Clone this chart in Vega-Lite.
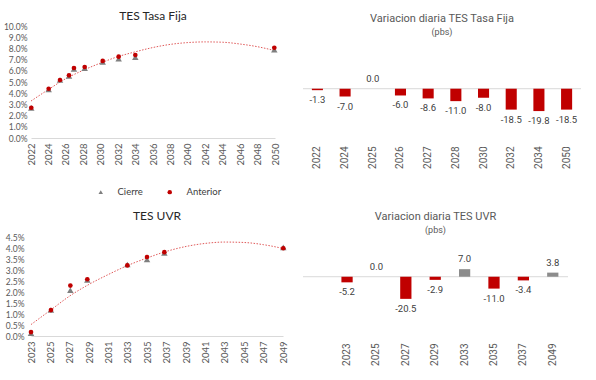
{
  "$schema": "https://vega.github.io/schema/vega-lite/v6.json",
  "background": "white",
  "padding": {"left": 3, "top": 10, "right": 0, "bottom": 0},
  "spacing": 14,
  "config": {
    "view": {"stroke": null},
    "axis": {"labelColor": "#595959", "domainColor": "#D9D9D9", "ticks": false, "grid": false, "labelOverlap": false, "labelFlush": false}
  },
  "hconcat": [
    {
      "spacing": 44,
      "vconcat": [
        {
          "width": 244,
          "height": 112,
          "title": {"text": "TES Tasa Fija", "font": "Lato", "fontSize": 12, "fontWeight": "normal", "color": "#262626", "offset": -1},
          "data": {"values": [
            {"anio": 2022.03, "valor": 2.69, "serie": "Cierre"},
            {"anio": 2024.03, "valor": 4.33, "serie": "Cierre"},
            {"anio": 2025.33, "valor": 5.18, "serie": "Cierre"},
            {"anio": 2026.36, "valor": 5.54, "serie": "Cierre"},
            {"anio": 2026.93, "valor": 6.16, "serie": "Cierre"},
            {"anio": 2028.16, "valor": 6.23, "serie": "Cierre"},
            {"anio": 2030.23, "valor": 6.80, "serie": "Cierre"},
            {"anio": 2032.06, "valor": 7.08, "serie": "Cierre"},
            {"anio": 2033.97, "valor": 7.21, "serie": "Cierre"},
            {"anio": 2049.92, "valor": 7.88, "serie": "Cierre"},
            {"anio": 2022.03, "valor": 2.70, "serie": "Anterior"},
            {"anio": 2024.03, "valor": 4.40, "serie": "Anterior"},
            {"anio": 2025.33, "valor": 5.18, "serie": "Anterior"},
            {"anio": 2026.36, "valor": 5.60, "serie": "Anterior"},
            {"anio": 2026.93, "valor": 6.25, "serie": "Anterior"},
            {"anio": 2028.16, "valor": 6.34, "serie": "Anterior"},
            {"anio": 2030.23, "valor": 6.88, "serie": "Anterior"},
            {"anio": 2032.06, "valor": 7.26, "serie": "Anterior"},
            {"anio": 2033.97, "valor": 7.41, "serie": "Anterior"},
            {"anio": 2049.92, "valor": 8.06, "serie": "Anterior"}
          ]},
          "encoding": {
            "x": {"field": "anio", "type": "quantitative", "scale": {"domain": [2022, 2050], "nice": false, "zero": false},
              "axis": {"title": null, "values": [2022, 2024, 2026, 2028, 2030, 2032, 2034, 2036, 2038, 2040, 2042, 2044, 2046, 2048, 2050], "format": "d", "labelAngle": -90, "labelPadding": 5, "labelFont": "Lato", "labelFontSize": 9.5}},
            "y": {"field": "valor", "type": "quantitative", "scale": {"domain": [0, 10], "nice": false},
              "axis": {"title": null, "values": [0, 1, 2, 3, 4, 5, 6, 7, 8, 9, 10], "labelExpr": "format(datum.value, '.1f') + '%'", "domain": false, "labelPadding": 4, "labelFont": "Lato", "labelFontSize": 8.5}}
          },
          "layer": [
            {
              "data": {"values": [
                {"anio": 2022, "valor": 3.3}, {"anio": 2024, "valor": 4.33}, {"anio": 2026, "valor": 5.3},
                {"anio": 2028, "valor": 6.05}, {"anio": 2030, "valor": 6.7}, {"anio": 2032, "valor": 7.27},
                {"anio": 2034, "valor": 7.7}, {"anio": 2036, "valor": 8.08}, {"anio": 2038, "valor": 8.36},
                {"anio": 2040, "valor": 8.52}, {"anio": 2042, "valor": 8.58}, {"anio": 2044, "valor": 8.55},
                {"anio": 2046, "valor": 8.39}, {"anio": 2048, "valor": 8.15}, {"anio": 2050, "valor": 7.8}
              ]},
              "mark": {"type": "line", "color": "#E05A5A", "strokeWidth": 1, "strokeDash": [1.5, 1.5], "interpolate": "monotone"},
              "encoding": {}
            },
            {
              "transform": [{"filter": "datum.serie === 'Cierre'"}],
              "mark": {"type": "point", "filled": true, "opacity": 1, "size": 42},
              "encoding": {
                "color": {"field": "serie", "type": "nominal", "scale": {"domain": ["Cierre", "Anterior"], "range": ["#7F7F7F", "#C00000"]},
                  "legend": {"orient": "none", "legendX": 65, "legendY": 161, "direction": "horizontal", "title": null, "labelFont": "Lato", "labelFontSize": 9.5, "labelColor": "#404040", "symbolSize": 20, "columnPadding": 22, "labelOffset": 12}},
                "shape": {"field": "serie", "type": "nominal", "scale": {"domain": ["Cierre", "Anterior"], "range": ["triangle-up", "circle"]}}
              }
            },
            {
              "transform": [{"filter": "datum.serie === 'Anterior'"}],
              "mark": {"type": "point", "filled": true, "opacity": 1, "size": 22},
              "encoding": {
                "color": {"field": "serie", "type": "nominal", "scale": {"domain": ["Cierre", "Anterior"], "range": ["#7F7F7F", "#C00000"]}},
                "shape": {"field": "serie", "type": "nominal", "scale": {"domain": ["Cierre", "Anterior"], "range": ["triangle-up", "circle"]}}
              }
            }
          ]
        },
        {
          "width": 252,
          "height": 99,
          "title": {"text": "TES UVR", "font": "Lato", "fontSize": 12, "fontWeight": "normal", "color": "#262626", "offset": 10},
          "data": {"values": [
            {"anio": 2023.0, "valor": 0.13, "serie": "Cierre"},
            {"anio": 2025.06, "valor": 1.18, "serie": "Cierre"},
            {"anio": 2027.06, "valor": 2.08, "serie": "Cierre"},
            {"anio": 2028.81, "valor": 2.55, "serie": "Cierre"},
            {"anio": 2032.94, "valor": 3.25, "serie": "Cierre"},
            {"anio": 2034.97, "valor": 3.48, "serie": "Cierre"},
            {"anio": 2036.76, "valor": 3.77, "serie": "Cierre"},
            {"anio": 2049.03, "valor": 4.03, "serie": "Cierre"},
            {"anio": 2023.0, "valor": 0.18, "serie": "Anterior"},
            {"anio": 2025.06, "valor": 1.18, "serie": "Anterior"},
            {"anio": 2027.06, "valor": 2.29, "serie": "Anterior"},
            {"anio": 2028.81, "valor": 2.58, "serie": "Anterior"},
            {"anio": 2032.94, "valor": 3.21, "serie": "Anterior"},
            {"anio": 2034.97, "valor": 3.59, "serie": "Anterior"},
            {"anio": 2036.76, "valor": 3.81, "serie": "Anterior"},
            {"anio": 2049.03, "valor": 3.99, "serie": "Anterior"}
          ]},
          "encoding": {
            "x": {"field": "anio", "type": "quantitative", "scale": {"domain": [2023, 2049], "nice": false, "zero": false},
              "axis": {"title": null, "values": [2023, 2025, 2027, 2029, 2031, 2033, 2035, 2037, 2039, 2041, 2043, 2045, 2047, 2049], "format": "d", "labelAngle": -90, "labelPadding": 5, "labelFont": "Lato", "labelFontSize": 9.5}},
            "y": {"field": "valor", "type": "quantitative", "scale": {"domain": [0, 4.5], "nice": false},
              "axis": {"title": null, "values": [0, 0.5, 1, 1.5, 2, 2.5, 3, 3.5, 4, 4.5], "labelExpr": "format(datum.value, '.1f') + '%'", "domain": false, "labelPadding": 7, "labelFont": "Lato", "labelFontSize": 8.5}}
          },
          "layer": [
            {
              "data": {"values": [
                {"anio": 2023, "valor": 0.52}, {"anio": 2025, "valor": 1.17}, {"anio": 2027, "valor": 1.82},
                {"anio": 2029, "valor": 2.35}, {"anio": 2031, "valor": 2.8}, {"anio": 2033, "valor": 3.21},
                {"anio": 2035, "valor": 3.55}, {"anio": 2037, "valor": 3.85}, {"anio": 2039, "valor": 4.07},
                {"anio": 2041, "valor": 4.21}, {"anio": 2043, "valor": 4.27}, {"anio": 2045, "valor": 4.25},
                {"anio": 2047, "valor": 4.15}, {"anio": 2049, "valor": 3.98}
              ]},
              "mark": {"type": "line", "color": "#E05A5A", "strokeWidth": 1, "strokeDash": [1.5, 1.5], "interpolate": "monotone"},
              "encoding": {}
            },
            {
              "transform": [{"filter": "datum.serie === 'Cierre'"}],
              "mark": {"type": "point", "filled": true, "opacity": 1, "size": 42, "shape": "triangle-up", "color": "#7F7F7F"},
              "encoding": {}
            },
            {
              "transform": [{"filter": "datum.serie === 'Anterior'"}],
              "mark": {"type": "point", "filled": true, "opacity": 1, "size": 22, "shape": "circle", "color": "#C00000"},
              "encoding": {}
            }
          ]
        }
      ]
    },
    {
      "spacing": 42,
      "vconcat": [
        {
          "width": 278,
          "height": 114,
          "title": {"text": "Variacion diaria TES Tasa Fija", "subtitle": "(pbs)", "font": "Roboto", "fontSize": 11, "fontWeight": "normal", "color": "#595959", "subtitleFont": "Roboto", "subtitleFontSize": 9, "subtitleColor": "#595959", "subtitlePadding": 4, "offset": -11},
          "layer": [
            {
              "data": {"values": [{"cero": 0}]},
              "mark": {"type": "rule", "color": "#D9D9D9", "strokeWidth": 1},
              "encoding": {"y": {"field": "cero", "type": "quantitative"}}
            },
            {
              "data": {"values": [
                {"plazo": "2022", "var": -1.3, "etiqueta": "-1.3"},
                {"plazo": "2024", "var": -7.0, "etiqueta": "-7.0"},
                {"plazo": "2025", "var": 0.0, "etiqueta": "0.0"},
                {"plazo": "2026", "var": -6.0, "etiqueta": "-6.0"},
                {"plazo": "2027", "var": -8.6, "etiqueta": "-8.6"},
                {"plazo": "2028", "var": -11.0, "etiqueta": "-11.0"},
                {"plazo": "2030", "var": -8.0, "etiqueta": "-8.0"},
                {"plazo": "2032", "var": -18.5, "etiqueta": "-18.5"},
                {"plazo": "2034", "var": -19.8, "etiqueta": "-19.8"},
                {"plazo": "2050", "var": -18.5, "etiqueta": "-18.5"}
              ]},
              "layer": [
                {
                  "mark": {"type": "bar"},
                  "encoding": {
                    "x": {"field": "plazo", "type": "nominal", "sort": null, "scale": {"paddingInner": 0.6, "paddingOuter": 0.32},
                      "axis": {"title": null, "labelAngle": -90, "labelPadding": 6, "domain": false, "labelFont": "Roboto", "labelFontSize": 10}},
                    "y": {"field": "var", "type": "quantitative", "scale": {"domain": [-45.4, 55.5], "nice": false, "zero": false}, "axis": null},
                    "color": {"condition": {"test": "datum['var'] < 0", "value": "#C00000"}, "value": "#8C8C8C"}
                  }
                },
                {
                  "transform": [{"filter": "datum['var'] < 0"}],
                  "mark": {"type": "text", "dy": 10, "font": "Roboto", "fontSize": 9.5, "color": "#404040"},
                  "encoding": {
                    "x": {"field": "plazo", "type": "nominal", "sort": null},
                    "y": {"field": "var", "type": "quantitative"},
                    "text": {"field": "etiqueta", "type": "nominal"}
                  }
                },
                {
                  "transform": [{"filter": "datum['var'] >= 0"}],
                  "mark": {"type": "text", "dy": -10, "font": "Roboto", "fontSize": 9.5, "color": "#404040"},
                  "encoding": {
                    "x": {"field": "plazo", "type": "nominal", "sort": null},
                    "y": {"field": "var", "type": "quantitative"},
                    "text": {"field": "etiqueta", "type": "nominal"}
                  }
                }
              ]
            }
          ]
        },
        {
          "width": 265,
          "height": 99,
          "title": {"text": "Variacion diaria TES UVR", "subtitle": "(pbs)", "font": "Roboto", "fontSize": 11, "fontWeight": "normal", "color": "#595959", "subtitleFont": "Roboto", "subtitleFontSize": 9, "subtitleColor": "#595959", "subtitlePadding": 4, "offset": 2},
          "layer": [
            {
              "data": {"values": [{"cero": 0}]},
              "mark": {"type": "rule", "color": "#D9D9D9", "strokeWidth": 1},
              "encoding": {"y": {"field": "cero", "type": "quantitative"}}
            },
            {
              "data": {"values": [
                {"plazo": "2023", "var": -5.2, "etiqueta": "-5.2"},
                {"plazo": "2025", "var": 0.0, "etiqueta": "0.0"},
                {"plazo": "2027", "var": -20.5, "etiqueta": "-20.5"},
                {"plazo": "2029", "var": -2.9, "etiqueta": "-2.9"},
                {"plazo": "2033", "var": 7.0, "etiqueta": "7.0"},
                {"plazo": "2035", "var": -11.0, "etiqueta": "-11.0"},
                {"plazo": "2037", "var": -3.4, "etiqueta": "-3.4"},
                {"plazo": "2049", "var": 3.8, "etiqueta": "3.8"}
              ]},
              "layer": [
                {
                  "mark": {"type": "bar"},
                  "encoding": {
                    "x": {"field": "plazo", "type": "nominal", "sort": null, "scale": {"paddingInner": 0.617, "paddingOuter": 0.817, "align": 0.8},
                      "axis": {"title": null, "labelAngle": -90, "labelPadding": 7, "domain": false, "labelFont": "Roboto", "labelFontSize": 10}},
                    "y": {"field": "var", "type": "quantitative", "scale": {"domain": [-54.9, 36.8], "nice": false, "zero": false}, "axis": null},
                    "color": {"condition": {"test": "datum['var'] < 0", "value": "#C00000"}, "value": "#8C8C8C"}
                  }
                },
                {
                  "transform": [{"filter": "datum['var'] < 0"}],
                  "mark": {"type": "text", "dy": 10, "font": "Roboto", "fontSize": 9.5, "color": "#404040"},
                  "encoding": {
                    "x": {"field": "plazo", "type": "nominal", "sort": null},
                    "y": {"field": "var", "type": "quantitative"},
                    "text": {"field": "etiqueta", "type": "nominal"}
                  }
                },
                {
                  "transform": [{"filter": "datum['var'] >= 0"}],
                  "mark": {"type": "text", "dy": -10, "font": "Roboto", "fontSize": 9.5, "color": "#404040"},
                  "encoding": {
                    "x": {"field": "plazo", "type": "nominal", "sort": null},
                    "y": {"field": "var", "type": "quantitative"},
                    "text": {"field": "etiqueta", "type": "nominal"}
                  }
                }
              ]
            }
          ]
        }
      ]
    }
  ]
}
